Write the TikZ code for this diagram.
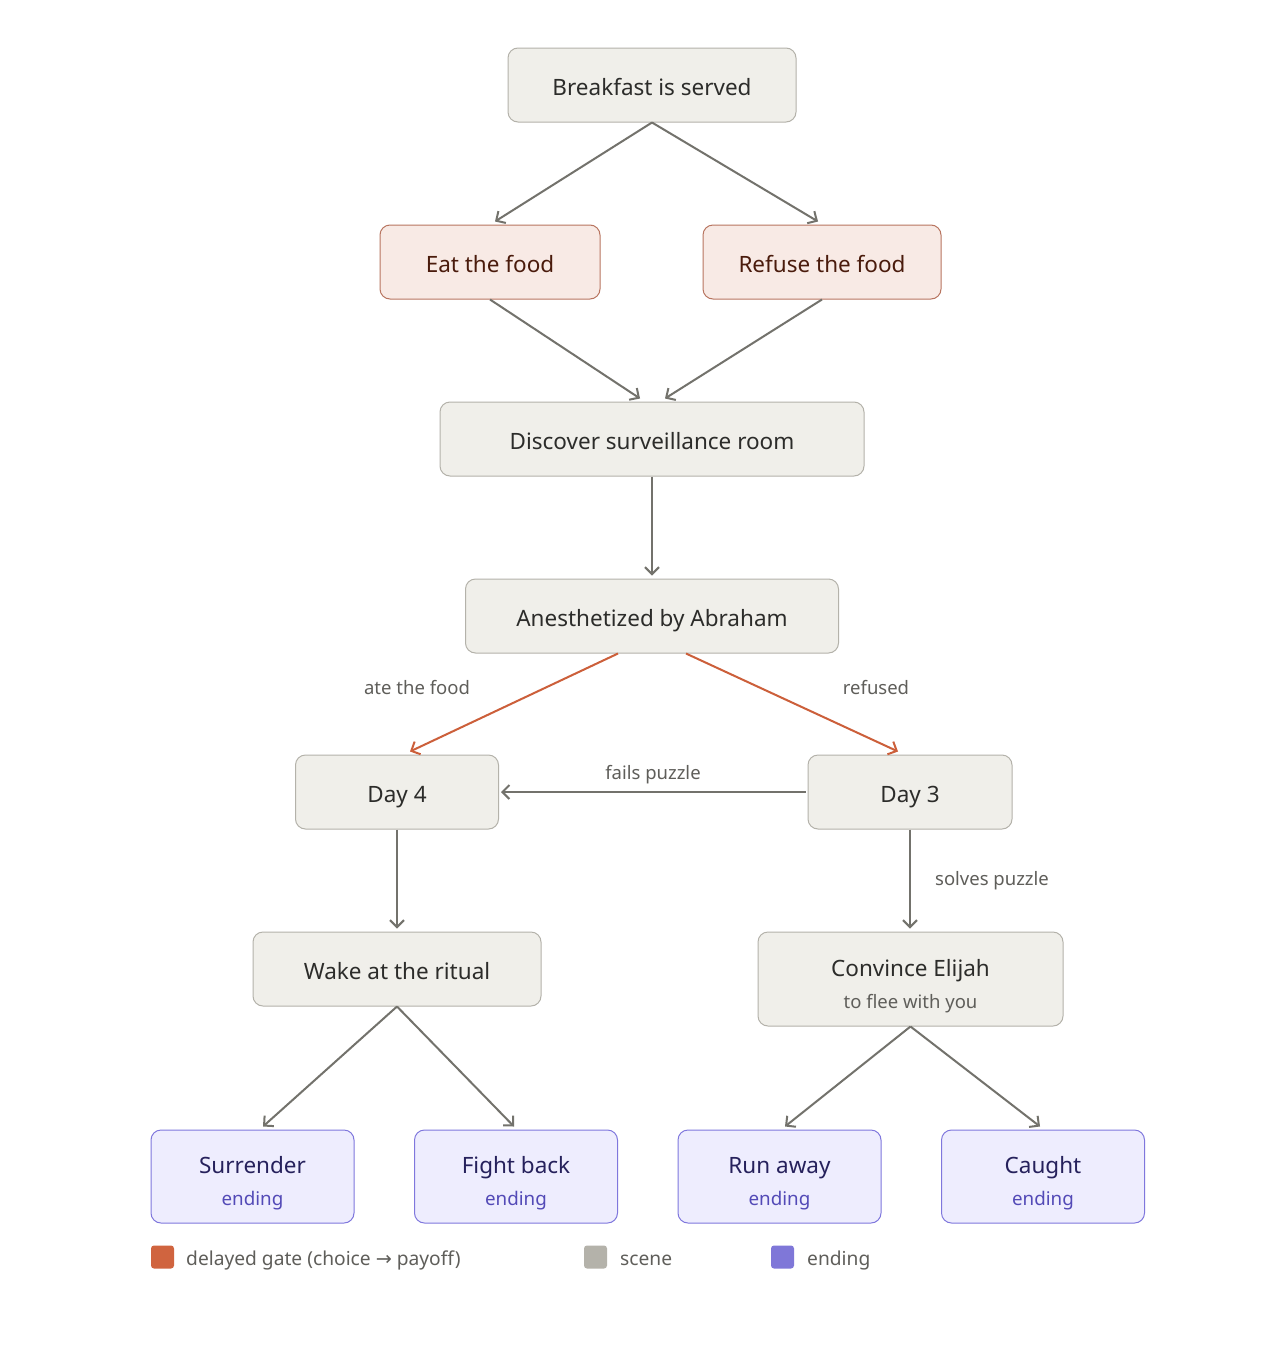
\documentclass[tikz,border=0pt]{standalone}
\usepackage{fontspec}
\setmainfont{Noto Sans}
\newfontfamily\symfnt{DejaVu Sans}
\usetikzlibrary{arrows.meta}
\definecolor{scfill}{HTML}{F0EFEA}
\definecolor{scbd}{HTML}{B4B2AA}
\definecolor{sctext}{HTML}{2C2C2A}
\definecolor{gtfill}{HTML}{F8EAE5}
\definecolor{gtbd}{HTML}{B87560}
\definecolor{gttext}{HTML}{4A1B0C}
\definecolor{enfill}{HTML}{EEEDFE}
\definecolor{enbd}{HTML}{7F77DD}
\definecolor{entext}{HTML}{26215C}
\definecolor{ensub}{HTML}{534AB7}
\definecolor{scsub}{HTML}{5F5E5A}
\definecolor{edgec}{HTML}{73726C}
\definecolor{redc}{HTML}{CC5F3A}
\definecolor{lblc}{HTML}{5F5E5A}
\definecolor{lgred}{HTML}{D0643F}
\definecolor{lggray}{HTML}{B4B2AA}
\definecolor{lgpur}{HTML}{7F77D8}
\tikzset{
  base/.style={rounded corners=10, line width=1, minimum height=74, inner sep=0,
    font=\fontsize{22.5}{32}\selectfont, align=center, text height=20, text depth=0},
  twoline/.style={text height=58, text depth=0},
  scene/.style={base, draw=scbd, fill=scfill, text=sctext},
  gate/.style={base, draw=gtbd, fill=gtfill, text=gttext},
  ending/.style={base, twoline, draw=enbd, fill=enfill, text=entext, minimum width=203, minimum height=93},
  edge/.style={draw=edgec, line width=2, -{Straight Barb[length=7,width=14]}},
  redge/.style={edge, draw=redc},
  lbl/.style={font=\fontsize{18.5}{22}\selectfont, text=lblc},
  lgbox/.style={rounded corners=3, minimum size=23, inner sep=0},
  lgtext/.style={font=\fontsize{19.2}{22}\selectfont, text=lblc, anchor=west, inner sep=0},
}
\newcommand{\ensubtxt}[1]{{\color{ensub}\fontsize{18.8}{32}\selectfont #1}}
\newcommand{\scsubtxt}[1]{{\color{scsub}\fontsize{18.5}{32}\selectfont #1}}
\begin{document}
\begin{tikzpicture}[x=1pt,y=-1pt]
\useasboundingbox[fill=white] (0,0) rectangle (1268,1352);
% nodes
\node[scene, minimum width=288] (brk) at (652,85) {Breakfast is served};
\node[gate, minimum width=220] (eat) at (490,262) {Eat the food};
\node[gate, minimum width=238] (ref) at (822,262) {Refuse the food};
\node[scene, minimum width=424] (dis) at (652,439) {Discover surveillance room};
\node[scene, minimum width=373] (ane) at (652,616) {Anesthetized by Abraham};
\node[scene, minimum width=203] (d4) at (397,792) {Day 4};
\node[scene, minimum width=204] (d3) at (910,792) {Day 3};
\node[scene, minimum width=288] (wak) at (397,969) {Wake at the ritual};
\node[scene, twoline, minimum width=305, minimum height=94] (con) at (910.5,979) {Convince Elijah\\\scsubtxt{to flee with you}};
\node[ending] (sur) at (252.5,1176.5) {Surrender\\\ensubtxt{ending}};
\node[ending] (fig) at (516,1176.5) {Fight back\\\ensubtxt{ending}};
\node[ending] (run) at (779.5,1176.5) {Run away\\\ensubtxt{ending}};
\node[ending] (cau) at (1043,1176.5) {Caught\\\ensubtxt{ending}};
% edges
\draw[edge] (brk.south) -- ([xshift=5,yshift=3]eat.north);
\draw[edge] (brk.south) -- ([xshift=-4,yshift=3]ref.north);
\draw[edge] (eat.south) -- ([xshift=-12,yshift=3]dis.north);
\draw[edge] (ref.south) -- ([xshift=13,yshift=3]dis.north);
\draw[edge] (dis.south) -- ([yshift=3]ane.north);
\draw[redge] ([xshift=-34]ane.south) -- ([xshift=13,yshift=3]d4.north);
\draw[redge] ([xshift=34]ane.south) -- ([xshift=-12,yshift=3]d3.north);
\draw[edge] ([xshift=-2]d3.west) -- ([xshift=2]d4.east);
\draw[edge] (d4.south) -- ([yshift=3]wak.north);
\draw[edge] (d3.south) -- ([xshift=-0.5,yshift=3]con.north);
\draw[edge] (wak.south) -- ([xshift=10.5,yshift=3]sur.north);
\draw[edge] (wak.south) -- ([xshift=-2,yshift=3]fig.north);
\draw[edge] (con.south) -- ([xshift=5.5,yshift=3]run.north);
\draw[edge] (con.south) -- ([xshift=-3,yshift=3]cau.north);
% edge labels
\node[lbl] (l1) at (417,688) {ate the food};
\node[lbl] (l2) at (876,688) {refused};
\node[lbl] (l3) at (653,775) {fails puzzle};
\node[lbl] (l4) at (992,881) {solves puzzle};
% legend
\node[lgbox, fill=lgred] (k1) at (162.5,1257) {};
\node[lgtext] (t1) at (186,1260) {delayed gate (choice {\symfnt →} payoff)};
\node[lgbox, fill=lggray] (k2) at (595.5,1257) {};
\node[lgtext] (t2) at (620,1260) {scene};
\node[lgbox, fill=lgpur] (k3) at (782.5,1257) {};
\node[lgtext] (t3) at (807,1260) {ending};
\end{tikzpicture}
\end{document}
